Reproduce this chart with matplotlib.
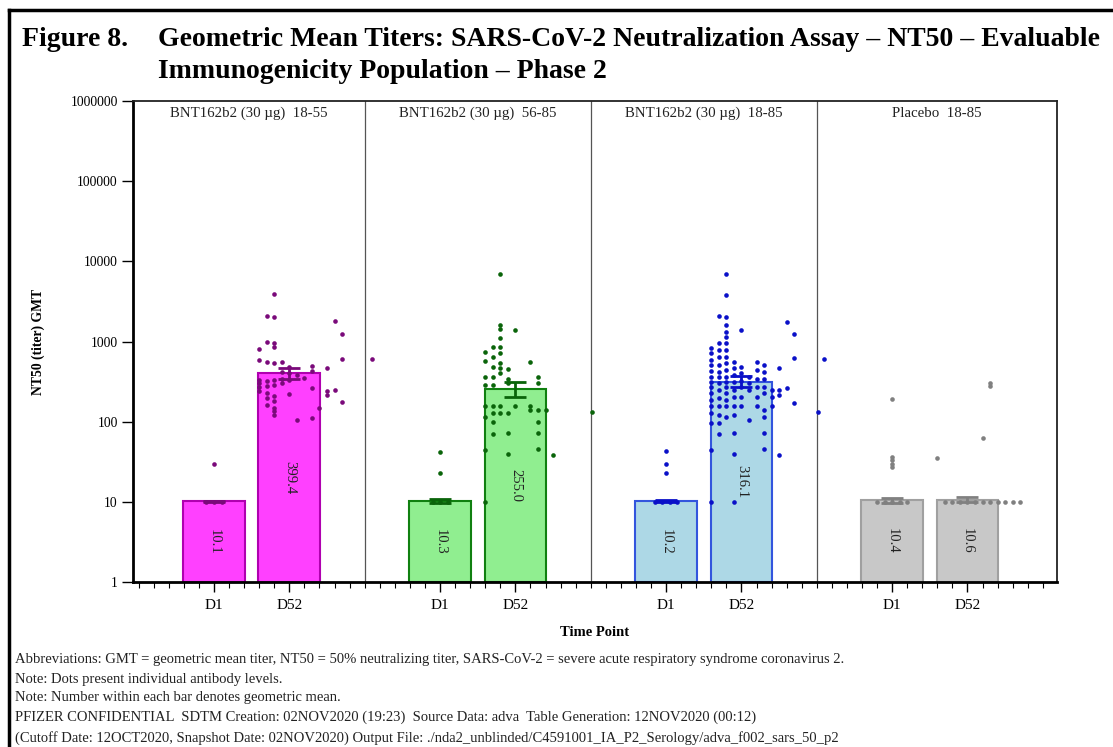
import numpy as np
import matplotlib
matplotlib.use("Agg")
import matplotlib.pyplot as plt
from matplotlib.lines import Line2D
from matplotlib.ticker import FixedLocator, NullFormatter

plt.rcParams['font.family'] = ['Liberation Serif', 'DejaVu Serif']

# ---------------- data ----------------
panels = ["BNT162b2 (30 \u00b5g)  18-55", "BNT162b2 (30 \u00b5g)  56-85",
          "BNT162b2 (30 \u00b5g)  18-85", "Placebo  18-85"]
timepoints = ["D1", "D52"]

gmt = [10.1, 399.4, 10.3, 255.0, 10.2, 316.1, 10.4, 10.6]
ci_low = [9.9, 340, 9.8, 205, 9.9, 270, 9.8, 9.9]
ci_high = [10.3, 470, 10.9, 315, 10.5, 370, 11.2, 11.5]

# individual titers per group (value, x-jitter in tick units)
p1_d1_vals = [30, 10, 10, 10]
p1_d1_off = [0, -0.5, 0, 0.5]
p1_d52_vals = [800, 580, 330, 300, 270, 240,
               2100, 1000, 560, 320, 280, 230, 200, 160,
               3900, 2000, 950, 850, 540, 330, 290, 210, 180, 150, 135, 120,
               560, 420, 340, 300,
               480, 400, 330, 220,
               380, 105,
               350,
               500, 430, 260, 110,
               150,
               470, 240, 215,
               1800, 250,
               1250, 600, 175,
               600]
p1_d52_off = [-2, -2, -2, -2, -2, -2,
              -1.5, -1.5, -1.5, -1.5, -1.5, -1.5, -1.5, -1.5,
              -1, -1, -1, -1, -1, -1, -1, -1, -1, -1, -1, -1,
              -0.5, -0.5, -0.5, -0.5,
              0, 0, 0, 0,
              0.5, 0.5,
              1,
              1.5, 1.5, 1.5, 1.5,
              2,
              2.5, 2.5, 2.5,
              3, 3,
              3.5, 3.5, 3.5,
              5.5]

p2_d1_vals = [42, 23, 10, 10, 10]
p2_d1_off = [0, 0, -0.5, 0, 0.5]
p2_d52_vals = [740, 570, 360, 285, 155, 115, 44, 10,
               850, 640, 480, 360, 285, 155, 127, 100, 71,
               6900, 1600, 1450, 1120, 860, 710, 540, 465, 400, 155, 127,
               455, 340, 300, 127, 72, 40,
               1380, 155,
               555, 155, 140,
               360, 300, 140, 100, 72, 45,
               140,
               38,
               132]
p2_d52_off = [-2, -2, -2, -2, -2, -2, -2, -2,
              -1.5, -1.5, -1.5, -1.5, -1.5, -1.5, -1.5, -1.5, -1.5,
              -1, -1, -1, -1, -1, -1, -1, -1, -1, -1, -1,
              -0.5, -0.5, -0.5, -0.5, -0.5, -0.5,
              0, 0,
              1, 1, 1,
              1.5, 1.5, 1.5, 1.5, 1.5, 1.5,
              2,
              2.5,
              5.1]

p3_d1_vals = [43, 30, 23, 10, 10, 10, 10]
p3_d1_off = [0, 0, 0, -0.75, -0.25, 0.25, 0.75]
p3_d52_vals = [820, 710, 590, 510, 430, 360, 315, 270, 225, 185, 155, 127, 95, 44, 10,
               2070, 950, 780, 645, 510, 420, 360, 300, 250, 195, 155, 120, 95, 70,
               6900, 3800, 2000, 1600, 1300, 1150, 950, 780, 645, 540, 445, 360, 315,
               270, 225, 185, 155, 115,
               560, 465, 380, 315, 250, 205, 155, 120, 72, 40, 10,
               1380, 485, 400, 325, 270, 205, 155,
               360, 300, 250, 105,
               560, 445, 340, 270, 205, 155,
               510, 420, 340, 270, 225, 140, 115, 72, 45,
               250, 205, 155,
               470, 250, 215, 38,
               1750, 260,
               1250, 620, 170,
               600, 132]
p3_d52_off = [-2] * 15 + [-1.5] * 14 + [-1] * 18 + [-0.5] * 11 + [0] * 7 + \
             [0.5] * 4 + [1] * 6 + [1.5] * 9 + [2] * 3 + [2.5] * 4 + [3] * 2 + \
             [3.5] * 3 + [5.5, 5.1]

p4_d1_vals = [190, 36, 33, 30, 27, 10, 10, 10, 10, 10]
p4_d1_off = [0, 0, 0, 0, 0, -1, -0.5, 0, 0.5, 1]
p4_d52_vals = [35, 62, 300, 280, 10, 10, 10, 10, 10, 10, 10, 10, 10, 10, 10]
p4_d52_off = [-2, 1, 1.5, 1.5, -1.5, -1, -0.5, 0, 0.5, 1, 1.5, 2, 2.5, 3, 3.5]

dot_vals = [p1_d1_vals, p1_d52_vals, p2_d1_vals, p2_d52_vals,
            p3_d1_vals, p3_d52_vals, p4_d1_vals, p4_d52_vals]
dot_offs = [p1_d1_off, p1_d52_off, p2_d1_off, p2_d52_off,
            p3_d1_off, p3_d52_off, p4_d1_off, p4_d52_off]

footnotes = [
    "Abbreviations: GMT = geometric mean titer, NT50 = 50% neutralizing titer, SARS-CoV-2 = severe acute respiratory syndrome coronavirus 2.",
    "Note: Dots present individual antibody levels.",
    "Note: Number within each bar denotes geometric mean.",
    "PFIZER CONFIDENTIAL  SDTM Creation: 02NOV2020 (19:23)  Source Data: adva  Table Generation: 12NOV2020 (00:12)",
    "(Cutoff Date: 12OCT2020, Snapshot Date: 02NOV2020) Output File: ./nda2_unblinded/C4591001_IA_P2_Serology/adva_f002_sars_50_p2",
]

# ---------------- styling ----------------
fill_cols = ["#FF40FF", "#90EE90", "#ADD8E6", "#C8C8C8"]
edge_cols = ["#B000B0", "#108010", "#3355DD", "#A0A0A0"]
dot_cols = ["#7A0A7A", "#0A640A", "#0A10C8", "#808080"]

W, H = 1113, 747
fig = plt.figure(figsize=(W / 100, H / 100), dpi=100)
ax = fig.add_axes([133 / W, 1 - 582 / H, 924 / W, 481 / H])
ax.set_yscale('log')
ax.set_ylim(1, 1e6)
ax.set_xlim(-0.375, 60.94)

panel_step = 15
tp_pos = [0, 5]
bar_w = 4.1

xs = []
for p in range(4):
    for t in range(2):
        xs.append(5 + p * panel_step + tp_pos[t])
xs = np.array(xs, dtype=float)
gmt_a = np.array(gmt)

for i in range(8):
    p = i // 2
    ax.bar(xs[i], gmt_a[i] - 1, bottom=1, width=bar_w, color=fill_cols[p],
           edgecolor=edge_cols[p], linewidth=1.5, zorder=2)
    ax.scatter(xs[i] + np.array(dot_offs[i]), dot_vals[i], s=11, color=dot_cols[p],
               zorder=3, linewidths=0)
    ax.errorbar(xs[i], gmt_a[i], yerr=[[gmt_a[i] - ci_low[i]], [ci_high[i] - gmt_a[i]]],
                fmt='none', ecolor=dot_cols[p], elinewidth=2, capsize=8, capthick=2,
                zorder=4)
    ax.text(xs[i], np.sqrt(gmt_a[i]), f"{gmt[i]:.1f}", rotation=-90, ha='center',
            va='center', fontsize=10.5, color='#222222', zorder=5)

# panel dividers and headers
for p in range(1, 4):
    ax.axvline(p * panel_step, color='#555555', lw=0.9, zorder=1)
for p in range(4):
    left = -0.375 if p == 0 else p * panel_step
    right = 60.94 if p == 3 else (p + 1) * panel_step
    ax.text((left + right) / 2, 0.975, panels[p], transform=ax.get_xaxis_transform(),
            ha='center', va='center', fontsize=10.7, color='#222222')

# axes
ax.set_xticks(xs)
ax.set_xticklabels(timepoints * 4, fontsize=11)
ax.xaxis.set_minor_locator(FixedLocator(np.arange(0, 61, 1)))
ax.tick_params(axis='x', which='major', direction='out', length=7, width=1, pad=5)
ax.tick_params(axis='x', which='minor', direction='out', length=4, width=0.8)
yt = [1, 10, 100, 1000, 10000, 100000, 1000000]
ax.yaxis.set_major_locator(FixedLocator(yt))
ax.set_yticklabels([str(v) for v in yt], fontsize=9.8)
ax.yaxis.set_minor_formatter(NullFormatter())
ax.tick_params(axis='y', which='minor', length=0)
ax.tick_params(axis='y', which='major', direction='out', length=8, width=1, pad=3)
for s in ['left', 'bottom']:
    ax.spines[s].set_linewidth(2)
for s in ['top', 'right']:
    ax.spines[s].set_linewidth(1.3)
    ax.spines[s].set_color('#222222')
ax.set_ylabel("NT50 (titer) GMT", fontsize=9.8, fontweight='bold', labelpad=18)
ax.set_xlabel("Time Point", fontsize=10.5, fontweight='bold', labelpad=10)

# title
fig.text(22 / W, 1 - 39 / H, "Figure 8.", fontsize=20, fontweight='bold', va='center')
fig.text(158 / W, 1 - 39 / H,
         "Geometric Mean Titers: SARS-CoV-2 Neutralization Assay \u2013 NT50 \u2013 Evaluable",
         fontsize=20, fontweight='bold', va='center')
fig.text(158 / W, 1 - 72 / H, "Immunogenicity Population \u2013 Phase 2",
         fontsize=20, fontweight='bold', va='center')

# footnotes
fy = [660, 679, 698, 717, 738]
for y, t in zip(fy, footnotes):
    fig.text(15 / W, 1 - y / H, t, fontsize=10.5, va='center', color='#222222')

# outer frame
fig.add_artist(Line2D([9 / W, 9 / W], [0, 1 - 10 / H], transform=fig.transFigure,
                      color='black', lw=2.5))
fig.add_artist(Line2D([9 / W, 1], [1 - 10 / H, 1 - 10 / H], transform=fig.transFigure,
                      color='black', lw=2.5))

fig.savefig("out.png", dpi=100)
